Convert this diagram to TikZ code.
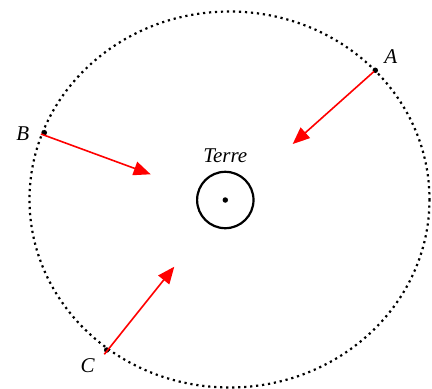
\documentclass[tikz,border=0pt]{standalone}
\usepackage{fontspec}
\setmainfont{Liberation Serif}
\usetikzlibrary{arrows.meta}
\begin{document}
\begin{tikzpicture}[x=1pt,y=-1pt,
  orbit/.style={line width=2.2pt,dash pattern=on 2.2pt off 3.8pt},
  force/.style={red,line width=1.6pt,-{Triangle[length=17pt,width=14pt]}},
  pt/.style={circle,fill=black,inner sep=0pt,minimum size=5.5pt},
  lab/.style={font=\fontsize{21}{24}\selectfont\itshape,inner sep=0pt}]
\useasboundingbox (0,0) rectangle (432,389);
\draw[orbit] (229.5,199.5) ellipse (200 and 188);
\node[pt] (E) at (225.3,200) {};
\draw[line width=2.2pt] (E.center) circle (28.2);
\node[lab] (T) at (225.3,156) {Terre};
\node[pt] (A) at (375.3,70.3) {};
\node[pt] (B) at (44.3,132.7) {};
\node[pt] (C) at (106.7,350) {};
\coordinate (As) at (374,71.5);
\coordinate (Bs) at (41,134);
\coordinate (Cs) at (104.3,354.3);
\coordinate (At) at (292.7,144);
\coordinate (Bt) at (150.7,174.3);
\coordinate (Ct) at (174.3,266.7);
\draw[force] (As) -- (At);
\draw[force] (Bs) -- (Bt);
\draw[force] (Cs) -- (Ct);
\node[lab] (LA) at (390.7,56.7) {A};
\node[lab] (LB) at (22.7,133.3) {B};
\node[lab] (LC) at (87.7,365.7) {C};
\end{tikzpicture}
\end{document}
